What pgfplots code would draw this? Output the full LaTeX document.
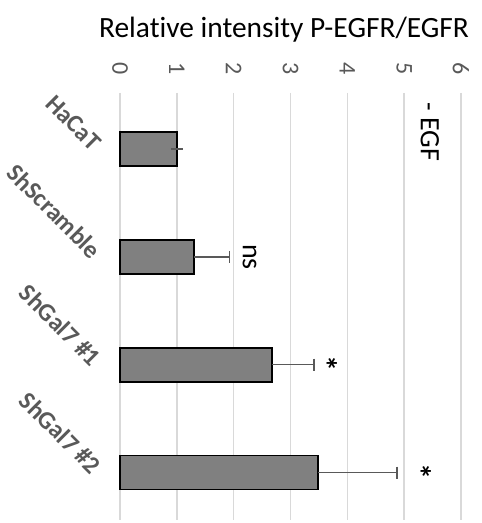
\documentclass[border=0pt]{standalone}
\usepackage{fontspec}
\setmainfont[Ligatures=NoCommon]{Carlito}
\usepackage{pgfplots}
\usepackage{pgfplotstable}
\pgfplotsset{compat=1.18}
\definecolor{barfill}{HTML}{808080}
\definecolor{gridc}{HTML}{D9D9D9}
\definecolor{labc}{HTML}{595959}
\pgfplotstableread{
c v e
0 1.00 0.00
1 1.30 0.63
2 2.67 0.74
3 3.48 1.39
}\datatable
\begin{document}
\begin{tikzpicture}
\begin{axis}[
  at={(0,0)}, anchor=south west,
  scale only axis, width=170.5pt, height=213.5pt,
  xbar, bar width=17pt,
  y dir=reverse,
  xmin=0, xmax=6, ymin=-0.52, ymax=3.44,
  axis line style={draw=none},
  xtick={0,1,2,3,4,5,6}, xticklabel pos=upper,
  major tick length=0pt,
  xmajorgrids, grid style={gridc, line width=0.75pt},
  ytick={0,1,2,3}, yticklabels={HaCaT,ShScramble,ShGal7 \#1,ShGal7 \#2},
  /pgf/number format/assume math mode=true,
  xticklabel style={font=\fontsize{12}{14}\selectfont, text=labc, rotate=-90, anchor=east},
  xticklabel shift=5.5pt,
  yticklabel style={font=\fontsize{12.5}{14}\selectfont\bfseries, text=labc, xshift=-9pt, yshift=-1pt, rotate=-45, anchor=east},
  clip=false,
]
\addplot[fill=barfill, draw=black, line width=0.9pt,
  error bars/.cd, x dir=plus, x explicit,
  error bar style={labc, line width=0.75pt},
  error mark=|,
  error mark options={labc, line width=0.75pt, mark size=3pt}]
  table[x=v, y=c, x error=e] {\datatable};
\node[rotate=-90, font=\fontsize{14}{16}\selectfont] at (axis cs:5.45,-0.16) {- EGF};
\node[rotate=-90, font=\fontsize{14}{16}\selectfont] at (axis cs:2.28,1) {ns};
\node[rotate=-90, font=\fontsize{16}{18}\selectfont\bfseries] at (axis cs:3.62,1.99) {*};
\node[rotate=-90, font=\fontsize{16}{18}\selectfont\bfseries] at (axis cs:5.27,2.99) {*};
\end{axis}
\node[font=\fontsize{14.7}{17}\selectfont] at (82pt,245pt) {Relative intensity P-EGFR/EGFR};
\pgfresetboundingbox
\path[use as bounding box] (-60pt,-1.5pt) rectangle (180.5pt,260pt);
\end{tikzpicture}
\end{document}
